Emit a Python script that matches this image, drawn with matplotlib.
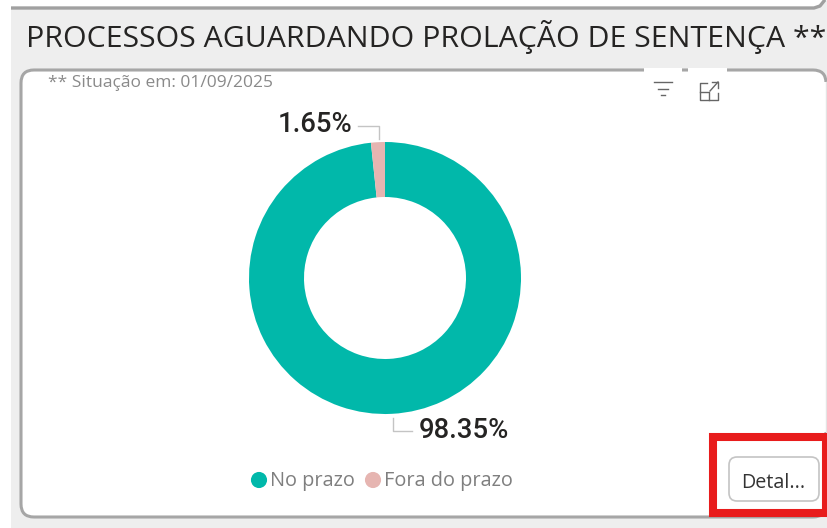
"""Donut card: processos aguardando prolacao de sentenca."""

import matplotlib

matplotlib.use("Agg")
import matplotlib.pyplot as plt
from matplotlib.patches import FancyBboxPatch, Rectangle

W, H = 827, 528

categories = ["No prazo", "Fora do prazo"]
shares = [98.35, 1.65]
share_labels = ["98.35%", "1.65%"]
colors = ["#01b8aa", "#e6b5b1"]

title = "PROCESSOS AGUARDANDO PROLAÇÃO DE SENTENÇA **"
subtitle = "** Situação em: 01/09/2025"
button_text = "Detal..."


def py(y):
    return H - y


fig = plt.figure(figsize=(W / 100, H / 100), dpi=100, facecolor="#eeeeee")
ax = fig.add_axes([0, 0, 1, 1])

ax.pie(
    shares,
    colors=colors,
    center=(385, py(278)),
    radius=136,
    startangle=90,
    counterclock=False,
    wedgeprops={"width": 55, "linewidth": 0},
)
ax.set_xlim(0, W)
ax.set_ylim(0, H)
ax.set_aspect("auto")
ax.set_axis_off()

# white card, left strip and the card above
ax.add_patch(FancyBboxPatch((21, py(517)), 805, 447, boxstyle="round,pad=0,rounding_size=13",
                            fc="white", ec="#a6a6a6", lw=2.2, zorder=0))
ax.add_patch(Rectangle((823, py(432)), 4, 350, fc="white", ec="none", zorder=0.2))
ax.plot([826, 826], [py(82), py(432)], color="#e4e4e4", lw=1, zorder=0.3)
ax.fill([11, 814, 824, 827, 827, 11], [py(8), py(8), py(1), py(1), py(0), py(0)], color="white", lw=0, zorder=0)
ax.plot([11, 814, 820, 824], [py(8), py(8), py(6), py(1)], color="#a0a0a0", lw=2.4, zorder=0.5)
ax.add_patch(Rectangle((0, 0), 11, H, fc="white", ec="none", zorder=0.6))
# header gap over the card border, behind the icons
ax.add_patch(Rectangle((644, py(76)), 38, 8, fc="white", ec="none", zorder=1))
ax.add_patch(Rectangle((688, py(76)), 39, 8, fc="white", ec="none", zorder=1))

ax.text(26, py(37), title, fontsize=21.75, family="Open Sans", color="#252423", va="center", ha="left")
ax.text(48, py(83), subtitle, fontsize=12.5, family="Open Sans", color="#8a8a8a", va="center", ha="left")

# data labels and leader lines
ax.text(352, py(125), share_labels[1], fontsize=19.8, family="Roboto", weight="medium", color="#252423",
        va="center", ha="right")
ax.plot([358, 379, 379], [py(126), py(126), py(139)], color="#c4c4c4", lw=1)
ax.text(419, py(430), share_labels[0], fontsize=19.8, family="Roboto", weight="medium", color="#252423",
        va="center", ha="left")
ax.plot([393, 393, 412], [py(418), py(431), py(431)], color="#c4c4c4", lw=1)

# legend
ax.scatter([259, 373], [py(480), py(480)], s=135, c=colors, linewidths=0, zorder=3)
ax.text(270, py(481), categories[0], fontsize=14.3, family="Open Sans", color="#7f7f7f", va="center", ha="left")
ax.text(384, py(481), categories[1], fontsize=14.3, family="Open Sans", color="#7f7f7f", va="center", ha="left")

# visual header icons
ink = "#666666"
ax.plot([654, 672], [py(82), py(82)], color=ink, lw=1)
ax.plot([658, 668], [py(89), py(89)], color=ink, lw=1)
ax.plot([661, 665], [py(95), py(95)], color=ink, lw=1)
ax.plot([707, 700, 700, 718, 718], [py(83), py(83), py(100), py(100), py(93)], color=ink, lw=1)
ax.plot([700, 709, 709], [py(92), py(92), py(100)], color=ink, lw=1)
ax.plot([710, 718], [py(91), py(82)], color=ink, lw=1)
ax.plot([712, 718, 718], [py(82), py(82), py(88)], color=ink, lw=1)

# red highlight and button
ax.add_patch(Rectangle((713, py(513)), 113, 76.5, fc="none", ec="#e81c1c", lw=5.8, zorder=4, joinstyle="miter"))
ax.add_patch(FancyBboxPatch((729, py(501)), 90, 44, boxstyle="round,pad=0,rounding_size=8",
                            fc="white", ec="#c4c4c4", lw=1.2, zorder=3))
ax.text(773.5, py(483), button_text, fontsize=14.2, family="Open Sans", color="#333333", va="center", ha="center",
        zorder=5)

fig.savefig("out.png", dpi=100, facecolor=fig.get_facecolor())
plt.close(fig)
